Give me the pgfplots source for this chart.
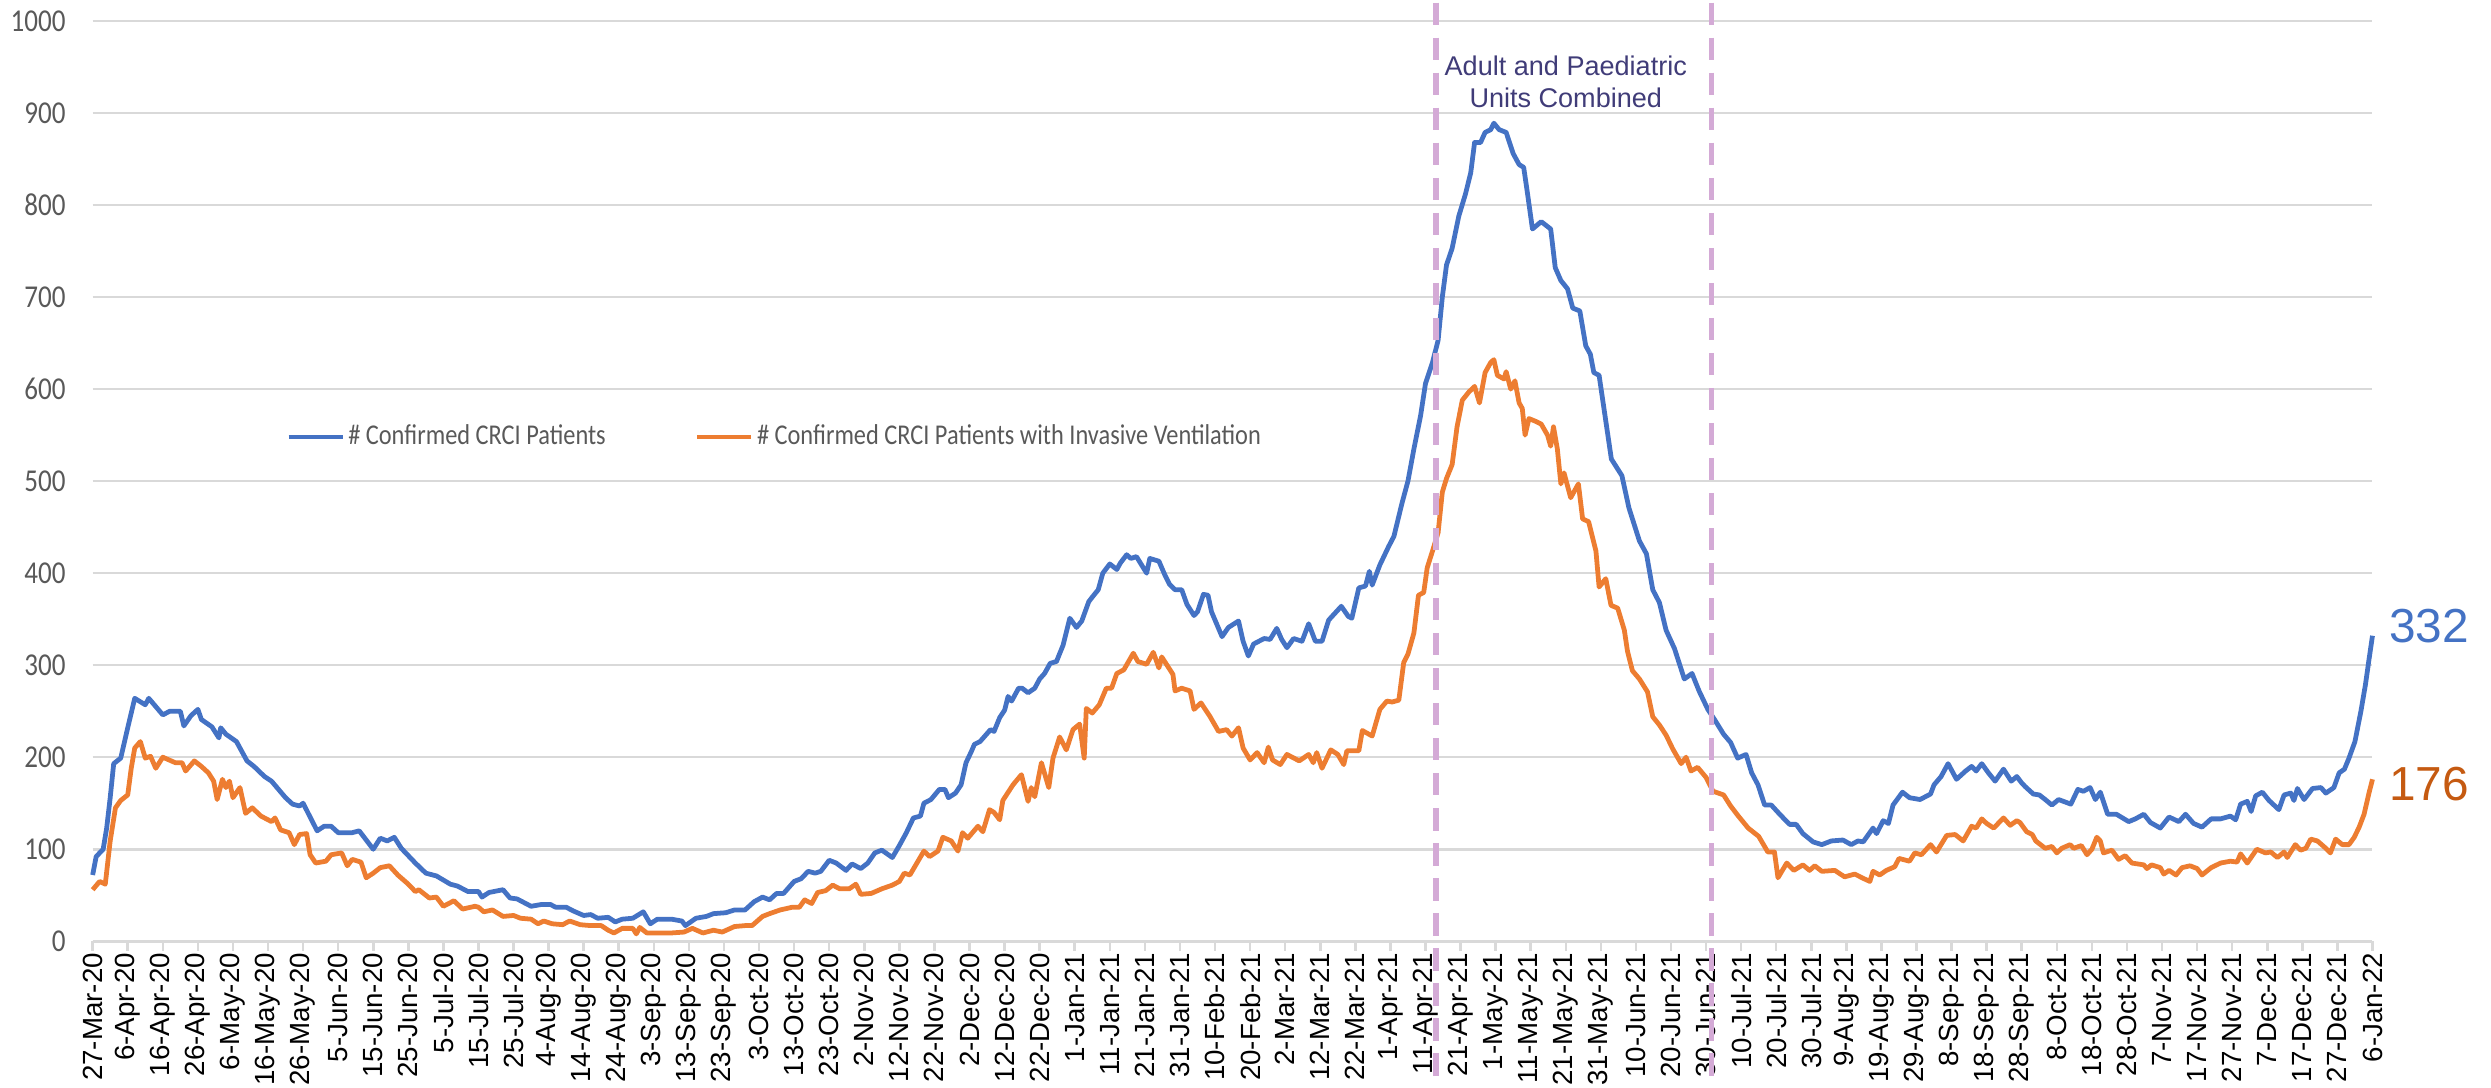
\documentclass[border={0pt 0pt 7pt 0pt}]{standalone}
\usepackage{pgfplots}
\pgfplotsset{compat=1.18}
\usepackage{fontspec}
\setmainfont{Liberation Sans}
\newfontfamily\carlito[FakeStretch=0.85]{Carlito}
\definecolor{cblue}{HTML}{4472C4}
\definecolor{corange}{HTML}{ED7D31}
\definecolor{cdorange}{HTML}{C55A11}
\definecolor{gridgray}{HTML}{D9D9D9}
\definecolor{labgray}{HTML}{595959}
\definecolor{vline}{RGB}{212,170,214}
\definecolor{annot}{HTML}{403C78}
\begin{document}
\begin{tikzpicture}
\begin{axis}[
  scale only axis, width=716pt, height=289pt,
  xmin=0, xmax=650, ymin=0, ymax=1000,
  clip=false,
  axis lines*=left,
  x axis line style={draw=gridgray, line width=0.8pt},
  y axis line style={draw=none},
  ytick={0,100,...,1000},
  ymajorgrids, major grid style={draw=gridgray, line width=0.8pt},
  ytick style={draw=none},
  xtick={0,10,...,650},
  xticklabels={27-Mar-20,6-Apr-20,16-Apr-20,26-Apr-20,6-May-20,16-May-20,26-May-20,5-Jun-20,15-Jun-20,25-Jun-20,5-Jul-20,15-Jul-20,25-Jul-20,4-Aug-20,14-Aug-20,24-Aug-20,3-Sep-20,13-Sep-20,23-Sep-20,3-Oct-20,13-Oct-20,23-Oct-20,2-Nov-20,12-Nov-20,22-Nov-20,2-Dec-20,12-Dec-20,22-Dec-20,1-Jan-21,11-Jan-21,21-Jan-21,31-Jan-21,10-Feb-21,20-Feb-21,2-Mar-21,12-Mar-21,22-Mar-21,1-Apr-21,11-Apr-21,21-Apr-21,1-May-21,11-May-21,21-May-21,31-May-21,10-Jun-21,20-Jun-21,30-Jun-21,10-Jul-21,20-Jul-21,30-Jul-21,9-Aug-21,19-Aug-21,29-Aug-21,8-Sep-21,18-Sep-21,28-Sep-21,8-Oct-21,18-Oct-21,28-Oct-21,7-Nov-21,17-Nov-21,27-Nov-21,7-Dec-21,17-Dec-21,27-Dec-21,6-Jan-22},
  xtick style={draw=gridgray, line width=0.8pt},
  tick align=outside, major tick length=3pt,
  xticklabel style={rotate=90, anchor=east, font=\fontsize{8.7}{10}\selectfont, inner sep=0.5pt},
  yticklabel style={font=\carlito\fontsize{10}{12}\selectfont, text=labgray, xshift=-2pt},
  /pgf/number format/assume math mode=true,
  /pgf/number format/1000 sep={},
  legend style={at={(axis cs:55,548)}, anchor=west, draw=none, fill=none,
    font=\carlito\fontsize{9}{11}\selectfont, text=labgray, inner sep=0pt,
    nodes={inner sep=1pt},
    /tikz/every even column/.append style={column sep=27pt}},
  legend columns=2,
  legend image code/.code={\draw[#1, line width=1.5pt] (0pt,0pt) -- (17pt,0pt);},
]
\addplot[cblue, line width=1.5pt, line join=round] coordinates {
(0,72)(1,92)(3,100)(4,123)(5,156)(6,193)(8,199)(10,232)(11,248)(12,264)(15,257)(16,264)(18,255)(20,246)(22,250)(25,250)(26,234)(28,245)(30,252)(31,241)(34,233)(36,221)(36.5,232)(38,225)(41,217)(44,196)(46,190)(49,179)(51,174)(55,156)(57,149)(59,147)(60,150)(64,120)(66,125)(68,125)(70,118)(74,118)(76,120)(79,105)(80,100)(82,112)(84,109)(86,113)(88,101)(92,85)(95,74)(98,71)(102,62)(104,60)(107,54)
(110,54)(111,48)(113,53)(117,56)(119,47)(121,46)(125,38)(128,40)(130.5,40)(132,37)(135,37)(137,33)(140,28)(142,29)(144,25)(147,26)(149,21)(151,24)(154,25)(157,32)(159,19)(161,24)(165,24)(168,22)(169,17)(172,25)(175,27)(177,30)(180.5,31)(183,34)(186,34)(188.6,43)(191,48)(193,45)(195,52)(197,52)(200,65)(202,68)(204,76)(206,74)(207.6,76)(210,88)(212,85)(214.8,77)(216.5,84)(219,79)(221,85)(223,96)(225,99)(228,91)
(230,104)(232,118)(234,134)(236,136)(237,150)(239,154)(241.4,165)(243,165)(244,156)(246,161)(247.6,170)(249,194)(250.5,206)(251.4,214)(253,217)(256,230)(257,228)(258.6,243)(260,251)(261,266)(262,261)(264,275)(265,275)(266.7,270)(268.6,275)(270,285)(271.4,291)(273,302)(274.8,304)(276.7,322)(278.6,351)(280.5,341)(282,348)(284,369)(285,374)(286.7,382)(288,400)(290,410)(292,404)(293,411)(294.8,420)(296,416)(297.6,418)(300.5,400)(301.4,416)(304,413)(305.7,398)(307,388)(308.6,382)(310.5,382)(312,366)(314,354)(315,358)(316.7,377)(318,376)(319,358)(321,340)(322,331)(323.8,341)(326.7,348)(328,326)(329.5,310)(331,323)(334,329)(335.7,328)(337.6,340)(339,328)(340.5,319)(342.4,329)(344.8,326)(346.7,345)(348.6,326)(350.5,326)(352.4,349)(356,364)(358,353)(359,351)(361,384)(362.9,386)(364,402)(364.8,387)(367,409)
(369.5,429)(371,440)(373.3,476)(375,500)(376.7,535)(378.6,571)(380,606)(382,629)(383.6,653)(384.8,700)(386,735)(387.6,753)(389.5,788)(391.4,812)(392.9,835)(394,868)(395.7,868)(397,879)(398.6,882)(399.5,889)(401,882)(403,879)(405,856)(406.7,844)(408,841)(409,815)(410.5,774)(413,782)(415.7,774)(417,732)(418.6,718)(420.5,709)(422,688)(424,685)(425.7,647)(427,638)(428,618)(429.5,615)(431,576)(433,524)(436,506)(438,471)(441,435)(443,421)(444.8,382)(446.7,368)(448.6,338)(451,318)(453.8,285)(456,291)
(458,272)(460.5,252)(462.4,241)(465,225)(467,216)(469,199)(471.4,203)(473,183)(474.8,170)(476.7,148)(478.6,148)(481,138)(483.8,127)(485.7,127)(487.6,117)(490.5,108)(493,105)(495.7,109)(499,110)(501.4,105)(503.3,109)(504.8,108)(507.6,123)(508.6,117)(510.5,131)(512,128)(513.3,148)(516,162)(518,156)(521,154)(524,160)(525,170)(527,179)(529,193)(531.4,176)(534,185)(535.7,190)(537,185)(538.6,193)(540.5,183)(542.4,174)(544.8,187)(547,174)(548.6,179)
(550,172)(551,168)(553.3,160)(555,159)(556.7,154)(558.6,148)(560.5,154)(564,149)(566,165)(567.6,163)(569.5,167)(571,154)(572.4,162)(574.5,138)(577,138)(580.5,130)(582.4,133)(584.8,138)(586.7,129)(589.5,123)(592,135)(594.8,130)(596.7,138)(599,128)(601.4,124)(604,133)(606.7,133)(609.5,136)(611,132)(612.4,149)(614.3,152)(615.4,141)(616.7,158)(618.6,162)(620.5,153)(623.3,143)(624.8,159)(626.7,161)(627.6,153)(628.6,166)(630.5,154)(632.9,166)(635.3,167)(636.7,161)(639,167)(640.5,183)(642,187)(643.3,199)(645,217)(646.7,250)(648,279)(649,306)(650,332)
};
\addlegendentry{\# Confirmed CRCI Patients}
\addplot[corange, line width=1.5pt, line join=round] coordinates {
(0,56)(2,65)(3.6,62)(5,109)(6.5,145)(8,153)(10,159)(11,188)(12,210)(13.6,217)(15,199)(16.5,201)(18,188)(20,200)(23.6,194)(25.5,194)(26.5,185)(29,196)(31,190)(33,183)(34.5,174)(35.5,154)(37,176)(38,167)(39,174)(40,156)(42,167)(43.6,139)(45.5,145)(48,136)(51,130)(52,134)(53.6,121)(56,118)(57.5,105)(59,116)(61,117)(62,94)(63.6,85)(66.5,87)(68,94)(71,96)(72.6,82)(74,89)(76.5,86)(78,69)(80,74)(82,80)(84.6,82)(87,72)(90,62)(92,54)(93,56)(96,47)(98,48)(100,38)(103,44)(105.5,35)(109,38)
(110,37)(111.5,32)(114,34)(117,27)(120,28)(122,25)(125,24)(127,19)(128.6,22)(131,19)(134,18)(136,22)(139,18)(142,17)(145,17)(147,12)(148.6,9)(151,14)(154,14)(155,8)(156,15)(158,9)(161,9)(165,9)(168.6,10)(171,14)(174,9)(177,12)(179.5,10)(183,16)(186,17)(188,17)(191,27)(193,30)(196,34)(199.5,37)(201.5,37)(203,45)(205,41)(206.7,53)(209,55)(211,61)(213,57)(215.7,57)(217.6,62)(219,51)(222,52)(225,57)(228,61)
(230,65)(231.4,74)(233,72)(235,85)(237,98)(238.6,92)(241,98)(242.4,113)(244.8,109)(246.7,98)(248,118)(249.5,112)(252.4,125)(253.8,119)(255.7,143)(257,140)(258.6,132)(259.5,153)(262.4,170)(264.8,181)(266.7,152)(267.6,167)(268.6,157)(270.5,194)(272.6,167)(273.8,199)(275.7,222)(277.6,208)(279.5,230)(281.4,236)(282.7,199)(283.3,253)(285,248)(287,257)(289,275)(290.5,275)(292,291)(294,295)(296.7,313)(298,304)(300.5,301)(302.4,314)(304,297)(304.8,309)(308,290)(308.6,272)(310.5,275)(312.9,272)(314,252)(316,259)(318.6,244)(321,228)(323.3,230)(324.8,223)(326.7,232)(328,210)(330,197)(332,205)(334,194)(335.2,211)(336.4,197)(338.6,192)(340.5,203)(344,196)(346.7,203)(348,194)(349,205)(350.5,188)(353,208)(355,203)(356.7,192)(357.6,207)(361,207)(362,229)(364.8,223)(367,252)(369,261)
(370.5,260)(372.4,262)(373.8,303)(375,312)(376.7,335)(378,376)(379.5,379)(380.5,406)(382,424)(383.6,444)(384.8,488)(386,503)(387.6,518)(389,559)(390.5,588)(392.4,597)(394,603)(395.4,585)(397,618)(398.6,629)(399.5,632)(400.5,615)(402.4,611)(403,619)(404.3,600)(405.5,609)(406.7,585)(407.6,579)(408.4,550)(409.5,568)(411.4,565)(413,562)(414.8,550)(415.7,538)(416.5,559)(417.6,535)(418.6,497)(419.5,509)(421.4,482)(423.6,497)(424.8,459)(426.5,456)(428.6,424)(429.5,385)(431.4,394)(432.9,365)(434.8,362)(436.7,338)(437.6,315)(439,294)(441,285)(443.3,271)(444.8,244)(446.7,235)(448.6,224)(450.5,209)(452.9,193)(454.3,200)(455.7,185)(457.6,189)
(460,178)(462,163)(465,159)(467,147)(469,137)(472,123)(475,114)(477.6,97)(479.5,97)(480.5,69)(483,85)(485,77)(487.6,83)(489.5,77)(491,82)(493,76)(496.7,77)(499.5,70)(502.4,73)(505,68)(506.7,65)(507.6,76)(509.5,72)(511.4,77)(513.8,81)(515,90)(518,87)(519.5,96)(521.4,94)(524,105)(525.7,97)(528.6,115)(531,116)(533.3,109)(535.7,125)(537,123)(538.6,133)(540,128)(542,123)(544.8,134)(546.7,126)(548.6,131)
(549.5,129)(551.4,119)(553,116)(554,109)(556.7,101)(558.6,103)(560,96)(561.4,101)(563.8,105)(564.8,101)(567,104)(568.6,94)(570,100)(571.4,113)(572.4,109)(573.3,96)(575.7,99)(577.6,89)(579.5,93)(581.4,85)(584.8,83)(585.7,79)(587,83)(589.5,80)(590.5,73)(592,77)(594,72)(595.7,80)(598,82)(600,79)(601.4,72)(604,80)(606.7,85)(609.5,87)(611.4,86)(612.4,95)(614.3,85)(617,100)(619.5,96)(621,97)(622.9,91)(624.8,97)(625.7,91)(628,105)(629.5,99)(631,101)(632.4,111)(634.3,109)(636.7,101)(638,96)(639.5,111)(641.4,105)(643.3,105)(644.8,113)(646.2,124)(647.6,138)(649,161)(650,176)
};
\addlegendentry{\# Confirmed CRCI Patients with Invasive Ventilation}
\addplot[vline, line width=1.6pt, dash pattern=on 7pt off 4pt, forget plot] coordinates {(383,1020) (383,-155)};
\addplot[vline, line width=1.6pt, dash pattern=on 7pt off 4pt, forget plot] coordinates {(461.5,1020) (461.5,-155)};
\node[annot, align=center, font=\fontsize{8.5}{10}\selectfont] at (axis cs:420,934) {Adult and Paediatric\\Units Combined};
\node[cblue, anchor=west, font=\fontsize{15}{18}\selectfont, inner sep=0pt, xshift=5pt] at (axis cs:650,342) {332};
\node[cdorange, anchor=west, font=\fontsize{15}{18}\selectfont, inner sep=0pt, xshift=5pt] at (axis cs:650,171) {176};
\end{axis}
\end{tikzpicture}
\end{document}
